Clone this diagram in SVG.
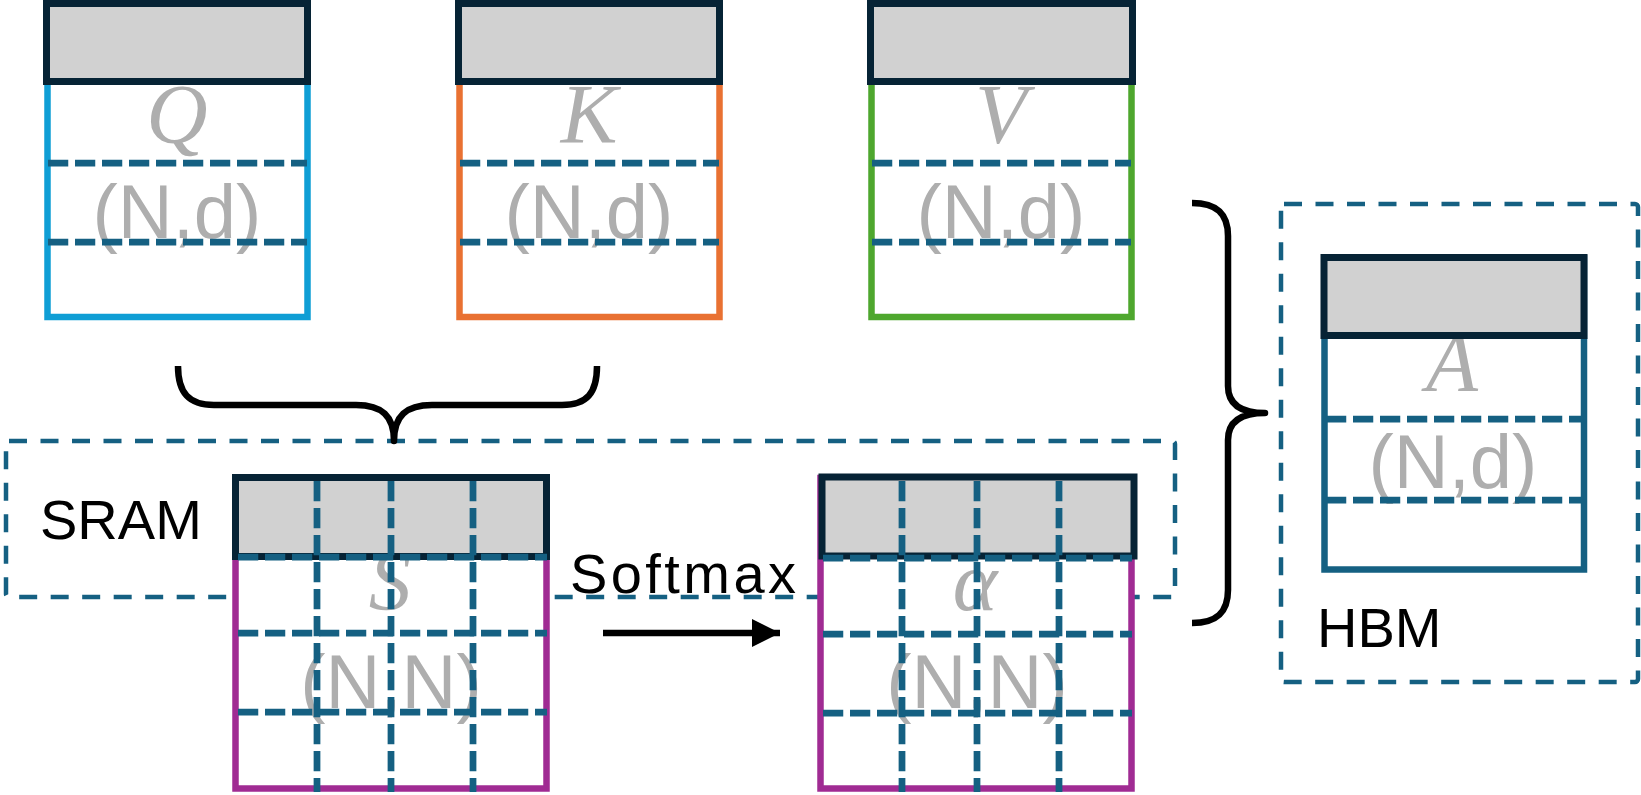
<svg xmlns="http://www.w3.org/2000/svg" width="1641" height="795" viewBox="0 0 1641 795">
<style>
.hdr{fill:#D1D1D1;stroke:#062335;stroke-width:7}
.cell{fill:#FFFFFF;stroke-width:6.5}
.dl{stroke:#156082;stroke-width:6.75;stroke-dasharray:20.25 6.75;fill:none}
.mem{fill:none;stroke:#156082;stroke-width:4.5;stroke-dasharray:18 13.5}
.sym{font-family:"Liberation Serif","DejaVu Serif",serif;font-style:italic;font-size:85px;fill:#AEAEAE;text-anchor:middle}
.dim{font-family:"Liberation Sans",Arial,sans-serif;font-size:76px;fill:#AEAEAE;text-anchor:middle}
.lbl{font-family:"Liberation Sans",Arial,sans-serif;font-size:56px;fill:#000000}
.brace{fill:none;stroke:#000000;stroke-width:6.5;stroke-linejoin:round}
</style>
<defs>
<marker id="arrow" markerUnits="userSpaceOnUse" markerWidth="30" markerHeight="30" refX="28" refY="14" orient="auto">
<polygon points="0,0 28,14 0,28" fill="#000000"/>
</marker>
</defs>
<rect width="1641" height="795" fill="#FFFFFF"/>

<g id="sram">
<rect class="mem" x="6" y="441" width="1169" height="156" rx="3"/>
<text class="lbl" x="40" y="539">SRAM</text>
</g>

<g id="hbm">
<rect class="mem" x="1281" y="204" width="357" height="478" rx="3"/>
<text class="lbl" x="1317" y="647">HBM</text>
</g>

<g id="node-q">
<rect class="cell" x="47.5" y="4" width="260" height="313" stroke="#0F9ED5"/>
<text class="sym" x="177" y="143">Q</text>
<text class="dim" x="177" y="238">(N,d)</text>
<line class="dl" x1="48" y1="163" x2="307" y2="163"/>
<line class="dl" x1="48" y1="242" x2="307" y2="242"/>
<rect class="hdr" x="46.5" y="3.5" width="261" height="78"/>
</g>

<g id="node-k">
<rect class="cell" x="459.5" y="4" width="260" height="313" stroke="#E97132"/>
<text class="sym" x="589" y="143">K</text>
<text class="dim" x="589" y="238">(N,d)</text>
<line class="dl" x1="460" y1="163" x2="719" y2="163"/>
<line class="dl" x1="460" y1="242" x2="719" y2="242"/>
<rect class="hdr" x="458.5" y="3.5" width="261" height="78"/>
</g>

<g id="node-v">
<rect class="cell" x="871.5" y="4" width="260" height="313" stroke="#4EA72E"/>
<text class="sym" x="1001" y="143">V</text>
<text class="dim" x="1001" y="238">(N,d)</text>
<line class="dl" x1="872" y1="163" x2="1131" y2="163"/>
<line class="dl" x1="872" y1="242" x2="1131" y2="242"/>
<rect class="hdr" x="870.5" y="3.5" width="262" height="78"/>
</g>

<g id="node-s">
<rect class="cell" x="235.5" y="478" width="311" height="310.5" stroke="#A02B93"/>
<text class="sym" x="390" y="610">S</text>
<text class="dim" x="391" y="708">(N,N)</text>
<rect class="hdr" x="235.5" y="477.5" width="311" height="79"/>
<line class="dl" x1="238" y1="557" x2="547" y2="557"/>
<line class="dl" x1="238" y1="633" x2="547" y2="633"/>
<line class="dl" x1="238" y1="712" x2="547" y2="712"/>
<line class="dl" x1="317" y1="481" x2="317" y2="792"/>
<line class="dl" x1="391" y1="481" x2="391" y2="792"/>
<line class="dl" x1="473" y1="481" x2="473" y2="792"/>
</g>

<g id="node-alpha">
<rect class="cell" x="820.5" y="478" width="311" height="310.5" stroke="#A02B93"/>
<text class="sym" x="975" y="610">α</text>
<text class="dim" x="977" y="708">(N,N)</text>
<rect class="hdr" x="822" y="477" width="312" height="79"/>
<line class="dl" x1="823" y1="558" x2="1132" y2="558"/>
<line class="dl" x1="823" y1="634" x2="1132" y2="634"/>
<line class="dl" x1="823" y1="713" x2="1132" y2="713"/>
<line class="dl" x1="902" y1="481" x2="902" y2="792"/>
<line class="dl" x1="977" y1="481" x2="977" y2="792"/>
<line class="dl" x1="1059" y1="481" x2="1059" y2="792"/>
</g>

<g id="node-a">
<rect class="cell" x="1324.5" y="258" width="259.5" height="311.5" stroke="#156082"/>
<text class="sym" x="1452" y="391">A</text>
<text class="dim" x="1453" y="488">(N,d)</text>
<line class="dl" x1="1326" y1="419" x2="1583" y2="419"/>
<line class="dl" x1="1326" y1="500" x2="1583" y2="500"/>
<rect class="hdr" x="1324" y="257.5" width="260" height="78"/>
</g>

<g id="connectors">
<path class="brace" d="M 178 366 C 178 393 189 405 214 405 L 356 405 C 382 405 394 416 394 441 C 394 416 406 405 432 405 L 562 405 C 587 405 597 393 597 366"/>
<path class="brace" d="M 1192 203 C 1216 203 1228 213 1228 236 L 1228 386 C 1228 404 1240 413 1265 413 C 1240 413 1228 422 1228 440 L 1228 590 C 1228 613 1216 623 1192 623"/>
<line x1="603" y1="633" x2="780" y2="633" stroke="#000000" stroke-width="6.5" marker-end="url(#arrow)"/>
<text class="lbl" x="570" y="593" textLength="226" lengthAdjust="spacing">Softmax</text>
</g>
</svg>
